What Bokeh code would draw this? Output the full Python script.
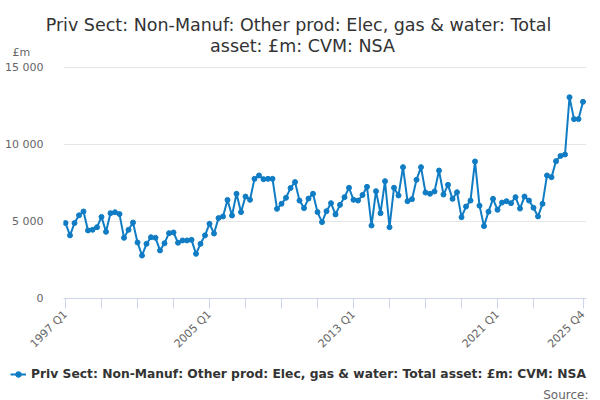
import math
from bokeh.plotting import figure
from bokeh.layouts import column
from bokeh.models import FixedTicker, Label, Legend, LegendItem, Range1d
from bokeh.embed import file_html
from bokeh.resources import INLINE

title_line1 = "Priv Sect: Non-Manuf: Other prod: Elec, gas & water: Total"
title_line2 = "asset: £m: CVM: NSA"
series_name = "Priv Sect: Non-Manuf: Other prod: Elec, gas & water: Total asset: £m: CVM: NSA"
y_unit = "£m"
source_text = "Source:"

start_year = 1997
values = [
    4900, 4100, 4900, 5400, 5650, 4420, 4460, 4630, 5300, 4330,
    5540, 5600, 5480, 3940, 4460, 4930, 3640, 2790, 3550, 3980,
    3940, 3120, 3590, 4240, 4290, 3620, 3770, 3770, 3810, 2900,
    3550, 4100, 4850, 4220, 5220, 5325, 6400, 5390, 6800, 5610,
    6620, 6410, 7770, 7990, 7750, 7770, 7770, 5820, 6150, 6540,
    7170, 7560, 6360, 5870, 6490, 6800, 5610, 4960, 5670, 6190,
    5460, 6080, 6580, 7190, 6410, 6360, 6720, 7250, 4740, 6970,
    5540, 7620, 4630, 7190, 6690, 8530, 6320, 6450, 7710, 8530,
    6880, 6800, 6950, 8310, 6750, 7380, 6470, 6900, 5280, 5970,
    6360, 8900, 6030, 4700, 5640, 6470, 5760, 6230, 6320, 6190,
    6580, 5840, 6620, 6360, 5890, 5330, 6150, 7990, 7880, 8920,
    9260, 9350, 13070, 11650, 11650, 12770,
]
quarters = [f"{start_year + i // 4} Q{i % 4 + 1}" for i in range(len(values))]
x_idx = list(range(len(values)))

x_tick_positions = [0, 8, 16, 24, 32, 40, 48, 56, 64, 72, 80, 88, 96, 104, 115]
x_labelled = ["1997 Q1", "2005 Q1", "2013 Q1", "2021 Q1", "2025 Q4"]
y_ticks = [0, 5000, 10000, 15000]
y_tick_labels = ["0", "5 000", "10 000", "15 000"]

FONT = "DejaVu Sans"
LINE_COLOR = "#107cc4"
W = 600

# ---------- header (title + unit) ----------
HEAD_H = 60
header = figure(width=W, height=HEAD_H, output_backend="svg", toolbar_location=None,
                x_range=Range1d(0, W), y_range=Range1d(HEAD_H, 0),
                min_border=0, x_axis_type=None, y_axis_type=None, frame_align=False)
header.outline_line_color = None
header.grid.visible = False
header.add_layout(Label(x=298, y=24, text=title_line1, text_align="center",
                        text_baseline="alphabetic", text_font=FONT,
                        text_font_size="17.5px", text_color="#333333"))
header.add_layout(Label(x=302, y=45, text=title_line2, text_align="center",
                        text_baseline="alphabetic", text_font=FONT,
                        text_font_size="17.5px", text_color="#333333"))
header.add_layout(Label(x=12, y=52, text=y_unit, text_align="left",
                        text_baseline="middle", text_font=FONT,
                        text_font_size="11px", text_color="#666666"))

# ---------- chart ----------
CH_H = 300
TOP, LEFT, RIGHT = 2, 63, 14
FRAME_TOP_PAGE = HEAD_H + TOP
FRAME_H = 298 - FRAME_TOP_PAGE
BOTTOM = CH_H - TOP - FRAME_H
px_per_val = 231 / 15000.0
y_end = 15000 + (67 - FRAME_TOP_PAGE) / px_per_val

p = figure(width=W, height=CH_H, output_backend="svg", toolbar_location=None,
           x_range=Range1d(-2 / 4.5, 115 + 3.5 / 4.5), y_range=Range1d(0, y_end),
           min_border_left=LEFT, min_border_right=RIGHT,
           min_border_top=TOP, min_border_bottom=BOTTOM, frame_align=False)
p.outline_line_color = None

p.line(x_idx, values, line_color=LINE_COLOR, line_width=2)
p.scatter(x_idx, values, size=5, fill_color=LINE_COLOR, line_color=LINE_COLOR)

overrides = {}
for t in x_tick_positions:
    lab = quarters[t]
    overrides[t] = lab if lab in x_labelled else ""
p.xaxis.ticker = FixedTicker(ticks=x_tick_positions)
p.xaxis.major_label_overrides = overrides
p.xaxis.major_label_orientation = math.pi / 4
p.xaxis.axis_line_color = "#ccd6eb"
p.xaxis.major_tick_line_color = "#ccd6eb"
p.xaxis.major_tick_out = 10
p.xaxis.major_tick_in = 0
p.xaxis.minor_tick_line_color = None
p.xaxis.major_label_text_font = FONT
p.xaxis.major_label_text_font_size = "11px"
p.xaxis.major_label_text_color = "#666666"
p.xaxis.major_label_standoff = 4
p.xgrid.grid_line_color = None

p.yaxis.ticker = FixedTicker(ticks=y_ticks)
p.yaxis.major_label_overrides = {t: l for t, l in zip(y_ticks, y_tick_labels)}
p.yaxis.axis_line_color = None
p.yaxis.major_tick_line_color = None
p.yaxis.minor_tick_line_color = None
p.yaxis.major_label_text_font = FONT
p.yaxis.major_label_text_font_size = "11px"
p.yaxis.major_label_text_color = "#666666"
p.yaxis.major_label_standoff = 14
p.ygrid.grid_line_color = "#e6e6e6"

# ---------- footer (legend + source) ----------
FOOT_H = 40
FOOT_TOP = HEAD_H + CH_H
footer = figure(width=W, height=FOOT_H, output_backend="svg", toolbar_location=None,
                x_range=Range1d(0, W), y_range=Range1d(FOOT_TOP + FOOT_H, FOOT_TOP),
                min_border=0, x_axis_type=None, y_axis_type=None, frame_align=False)
footer.outline_line_color = None
footer.grid.visible = False
# legend key renderers (series data lies outside this strip's ranges, so only the key shows)
key_line = footer.line(x_idx, values, line_color=LINE_COLOR, line_width=2)
key_dot = footer.scatter(x_idx, values, size=4, fill_color=LINE_COLOR, line_color=LINE_COLOR)
legend = Legend(items=[LegendItem(label=series_name, renderers=[key_line, key_dot])],
                location=(10, 19), orientation="horizontal",
                border_line_color=None, background_fill_alpha=0,
                label_text_font=FONT, label_text_font_size="12.3px",
                label_text_font_style="bold", label_text_color="#333333",
                glyph_width=16, glyph_height=14, padding=0, margin=0,
                label_standoff=5, label_height=14)
footer.add_layout(legend, "center")
footer.add_layout(Label(x=588, y=394, text=source_text, text_align="right",
                        text_baseline="alphabetic", text_font=FONT,
                        text_font_size="12px", text_color="#666666"))

layout = column(header, p, footer, spacing=0)
open("out.html", "w").write(file_html(layout, INLINE))
